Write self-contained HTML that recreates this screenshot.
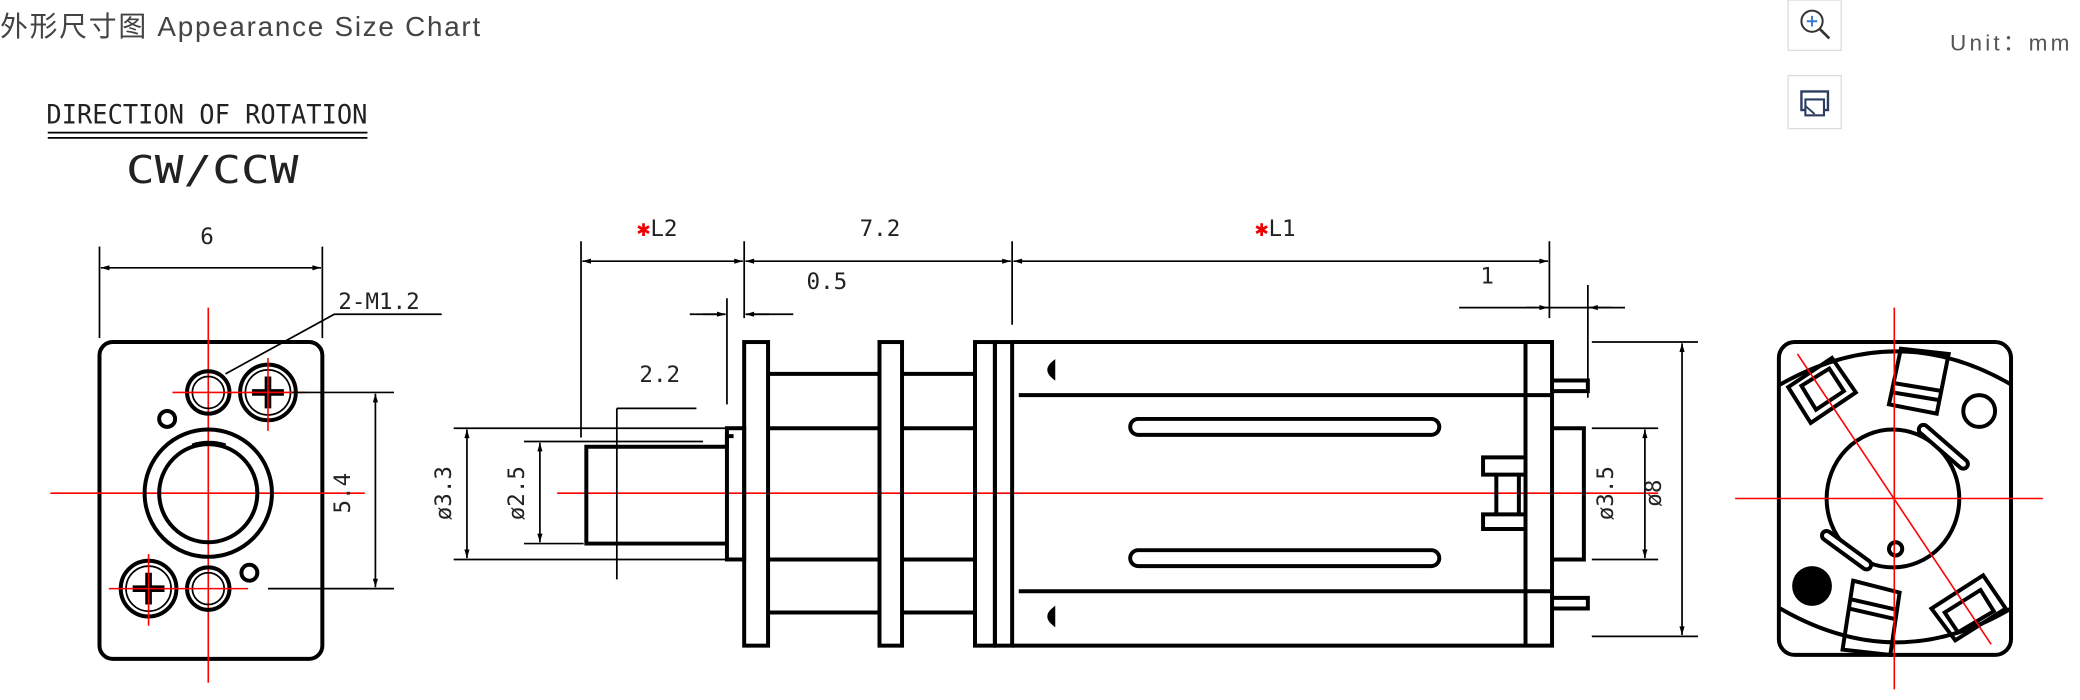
<!DOCTYPE html>
<html><head><meta charset="utf-8"><style>
html,body{margin:0;padding:0;background:#fff;width:2080px;height:700px;overflow:hidden}
svg{display:block}
.k{stroke:#000;fill:none;stroke-width:3}
.t{stroke:#000;fill:none;stroke-width:1.3}
.r{stroke:#f00;fill:none;stroke-width:1.2}
.d{font-family:"DejaVu Sans Mono","Liberation Mono",monospace;fill:#222;font-size:17px}
</style></head><body>
<svg width="2080" height="700" viewBox="0 0 1568 528" preserveAspectRatio="none" xmlns="http://www.w3.org/2000/svg">
<defs>
<marker id="a" viewBox="0 0 10 10" refX="10" refY="5" markerWidth="7" markerHeight="5" orient="auto-start-reverse"><path d="M0,2L10,5L0,8z" fill="#000"/></marker>
</defs>
<text x="0" y="27" font-family="Liberation Sans,'Noto Sans CJK SC',sans-serif" font-size="21" fill="#444" textLength="362">外形尺寸图 Appearance Size Chart</text>
<text x="1470" y="38" font-family="Liberation Sans,sans-serif" font-size="17" fill="#555" textLength="90">Unit：mm</text>
<rect x="1348" y="0" width="40" height="38" fill="#fff" stroke="#ddd"/>
<circle cx="1366" cy="16" r="8" fill="none" stroke="#333" stroke-width="1.5"/><line x1="1372" y1="22" x2="1379" y2="29" stroke="#333" stroke-width="2"/><path d="M1362,16h8M1366,12v8" stroke="#3a7bd5" stroke-width="1.5"/>
<rect x="1348" y="57" width="40" height="40" fill="#fff" stroke="#ddd"/>
<rect x="1358" y="69" width="20" height="14" fill="none" stroke="#2c3e60" stroke-width="1.8"/><rect x="1361" y="75" width="14" height="12" fill="#fff" stroke="#2c3e60" stroke-width="1.6"/><path d="M1361,80l7,6" stroke="#2c3e60" stroke-width="1.4"/>

<text x="35" y="93" class="d" style="font-size:20px" textLength="242" lengthAdjust="spacingAndGlyphs">DIRECTION OF ROTATION</text>
<line x1="36" y1="100" x2="277" y2="100" class="t"/><line x1="36" y1="104" x2="277" y2="104" class="t"/>
<text x="95" y="138" class="d" style="font-size:29px" textLength="130" lengthAdjust="spacingAndGlyphs">CW/CCW</text>

<!-- left view -->
<rect x="75" y="258" width="168" height="239" rx="10" class="k"/>
<line x1="157" y1="232" x2="157" y2="515" class="r"/>
<line x1="38" y1="372" x2="275" y2="372" class="r"/>
<circle cx="157" cy="372" r="48" class="k"/>
<circle cx="157" cy="372" r="37" class="k"/>
<path d="M145,336 Q157,332 170,336" class="k"/>
<circle cx="157" cy="296" r="16" class="k"/><circle cx="157" cy="296" r="12" class="t"/>
<circle cx="202" cy="296" r="21" class="k"/><circle cx="202" cy="296" r="17" class="t"/>
<path d="M190,296h24M202,284v24" stroke="#000" stroke-width="5"/>
<circle cx="112" cy="444" r="21" class="k"/><circle cx="112" cy="444" r="17" class="t"/>
<path d="M100,444h24M112,432v24" stroke="#000" stroke-width="5"/>
<circle cx="157" cy="444" r="16" class="k"/><circle cx="157" cy="444" r="12" class="t"/>
<circle cx="126" cy="316" r="6" class="k" stroke-width="2"/><circle cx="188" cy="432" r="6" class="k" stroke-width="2"/>
<path d="M130,296h100M202,270v55M82,444h105M112,418v54" class="r"/>
<line x1="75" y1="186" x2="75" y2="255" class="t"/><line x1="243" y1="186" x2="243" y2="255" class="t"/>
<line x1="76" y1="202" x2="242" y2="202" class="t" marker-start="url(#a)" marker-end="url(#a)"/>
<text x="151" y="184" class="d">6</text>
<path d="M170,282L252,237H333" class="t"/>
<text x="255" y="233" class="d">2-M1.2</text>
<line x1="220" y1="296" x2="297" y2="296" class="t"/><line x1="202" y1="444" x2="297" y2="444" class="t"/>
<line x1="283" y1="297" x2="283" y2="443" class="t" marker-start="url(#a)" marker-end="url(#a)"/>
<text transform="translate(264,372) rotate(-90)" class="d" text-anchor="middle">5.4</text>

<!-- middle view -->
<line x1="420" y1="372" x2="1250" y2="372" class="r"/>
<path d="M548,337H442V410H548" class="k"/><path d="M548,337v-8h5" class="k"/>
<rect x="548" y="323" width="13" height="99" class="k"/>
<rect x="561" y="258" width="18" height="229" class="k"/>
<rect x="663" y="258" width="17" height="229" class="k"/>
<rect x="735" y="258" width="15" height="229" class="k"/>
<rect x="750" y="258" width="13" height="229" class="k"/>
<path d="M579,282H663M579,323H663M579,422H663M579,462H663M680,282H735M680,323H735M680,422H735M680,462H735" class="k"/>
<path d="M763,258H1170V487H763" class="k"/>
<path d="M768,298H1170M768,446H1170M1150,258V487" class="k"/>
<rect x="852" y="316" width="233" height="12" rx="6" class="k"/>
<rect x="852" y="415" width="233" height="12" rx="6" class="k"/>
<path d="M794,274v10q-6,-5 0,-10z" class="k" stroke-width="2.5"/>
<path d="M794,460v10q-6,-5 0,-10z" class="k" stroke-width="2.5"/>
<path d="M1170,287H1197V295H1170M1170,451H1197V459H1170" class="k" stroke-width="2.5"/>
<path d="M1170,323H1194V422H1170" class="k"/>
<path d="M1150,345H1118V358H1150M1150,388H1118V399H1150M1128,358V388H1145V358" class="k" stroke-width="2.5"/>
<!-- dims -->
<path d="M438,182V330M561,182V240M763,182V245M1168,182V240M548,225V305M1197,215V300" class="t"/>
<line x1="439" y1="197" x2="560" y2="197" class="t" marker-start="url(#a)" marker-end="url(#a)"/>
<line x1="562" y1="197" x2="762" y2="197" class="t" marker-start="url(#a)" marker-end="url(#a)"/>
<line x1="764" y1="197" x2="1167" y2="197" class="t" marker-start="url(#a)" marker-end="url(#a)"/>
<text x="480" y="178" class="d"><tspan fill="#e00">✱</tspan>L2</text>
<text x="648" y="178" class="d">7.2</text>
<text x="946" y="178" class="d"><tspan fill="#e00">✱</tspan>L1</text>
<text x="608" y="218" class="d">0.5</text>
<path d="M520,237H546M563,237H598" class="t"/>
<line x1="530" y1="237" x2="547" y2="237" class="t" marker-end="url(#a)"/><line x1="580" y1="237" x2="562" y2="237" class="t" marker-end="url(#a)"/>
<text x="1116" y="214" class="d">1</text>
<path d="M1100,232H1225" class="t"/>
<line x1="1150" y1="232" x2="1167" y2="232" class="t" marker-end="url(#a)"/><line x1="1215" y1="232" x2="1198" y2="232" class="t" marker-end="url(#a)"/>
<text x="482" y="288" class="d">2.2</text>
<path d="M465,308H525M465,308V437" class="t"/>
<path d="M342,323H548M342,422H548M395,333H530M395,410H440" class="t"/>
<line x1="352" y1="324" x2="352" y2="421" class="t" marker-start="url(#a)" marker-end="url(#a)"/>
<line x1="407" y1="334" x2="407" y2="409" class="t" marker-start="url(#a)" marker-end="url(#a)"/>
<text transform="translate(340,372) rotate(-90)" class="d" text-anchor="middle">ø3.3</text>
<text transform="translate(395,372) rotate(-90)" class="d" text-anchor="middle">ø2.5</text>
<path d="M1200,323H1250M1200,422H1250M1200,258H1280M1200,480H1280" class="t"/>
<line x1="1240" y1="324" x2="1240" y2="421" class="t" marker-start="url(#a)" marker-end="url(#a)"/>
<line x1="1268" y1="259" x2="1268" y2="479" class="t" marker-start="url(#a)" marker-end="url(#a)"/>
<text transform="translate(1216,372) rotate(-90)" class="d" text-anchor="middle">ø3.5</text>
<text transform="translate(1252,372) rotate(-90)" class="d" text-anchor="middle">ø8</text>

<!-- right view -->
<rect x="1341" y="258" width="175" height="236" rx="12" class="k"/>
<path d="M1342,290Q1430,240 1516,290M1342,459Q1430,510 1516,459" class="k"/>
<ellipse cx="1427" cy="376" rx="50" ry="52" class="k"/>
<path d="M1348,292L1381,270L1399,296L1365,319Z" class="k"/><path d="M1358,291L1379,278L1390,295L1369,309Z" class="k" stroke-width="2.5"/>
<path d="M1433,263L1469,267L1460,312L1424,305Z" class="k"/><path d="M1428,289L1464,295M1427,296L1463,302" class="k" stroke-width="2.5"/>
<circle cx="1492" cy="310" r="12" class="k"/>
<path d="M1450,324L1480,350" stroke="#000" stroke-width="10" stroke-linecap="round"/><path d="M1450,324L1480,350" stroke="#fff" stroke-width="4" stroke-linecap="round"/>
<path d="M1377,404L1407,426" stroke="#000" stroke-width="10" stroke-linecap="round"/><path d="M1377,404L1407,426" stroke="#fff" stroke-width="4" stroke-linecap="round"/>
<circle cx="1429" cy="414" r="5" class="k" stroke-width="2.5"/>
<circle cx="1366" cy="442" r="15" fill="#000"/>
<path d="M1397,438L1432,447L1425,494L1389,490Z" class="k"/><path d="M1395,452L1430,460M1394,459L1429,467" class="k" stroke-width="2.5"/>
<path d="M1456,459L1495,434L1512,459L1474,483Z" class="k"/><path d="M1466,462L1493,445L1503,461L1476,477Z" class="k" stroke-width="2.5"/>
<line x1="1428" y1="232" x2="1428" y2="520" class="r"/>
<line x1="1308" y1="376" x2="1540" y2="376" class="r"/>
<line x1="1355" y1="267" x2="1501" y2="486" class="r"/>
</svg>
</body></html>
